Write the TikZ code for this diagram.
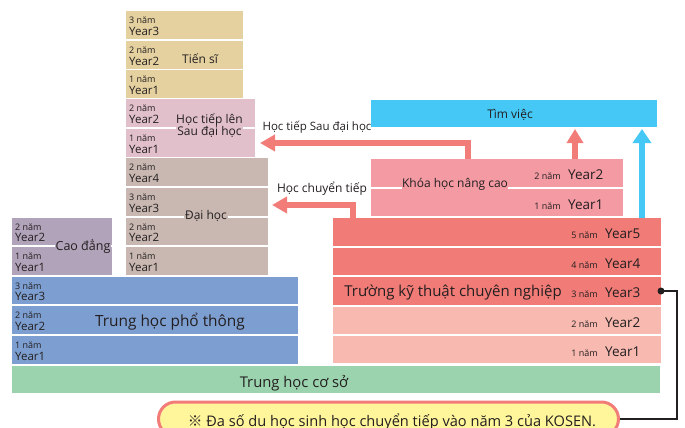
\documentclass[tikz,border=0pt]{standalone}
\usepackage{fontspec}
\setmainfont{Open Sans}
\newfontfamily\cjkf{Noto Sans CJK JP}
\usetikzlibrary{arrows.meta,calc}
\definecolor{txt}{RGB}{35,31,32}
\definecolor{cTS}{RGB}{229,209,160}
\definecolor{cSDH}{RGB}{225,192,203}
\definecolor{cDH}{RGB}{201,184,178}
\definecolor{cCD}{RGB}{177,163,185}
\definecolor{cTH}{RGB}{125,158,208}
\definecolor{cCS}{RGB}{155,211,174}
\definecolor{cKD}{RGB}{241,123,118}
\definecolor{cKL}{RGB}{248,186,176}
\definecolor{cKH}{RGB}{243,154,163}
\definecolor{cTV}{RGB}{69,200,245}
\definecolor{cAR}{RGB}{242,125,120}
\definecolor{cNote}{RGB}{255,245,154}
\newcommand\rb[6]{\node[rowb,fill=#2,minimum width=#5pt,minimum height=#6pt] (#1) at (#3,#4) {};}
\newcommand\yrlab[3]{\node[yrl] (#1l) at ([xshift=3pt,yshift=-1pt]#1.west) {{\fontsize{9}{9}\selectfont #2 năm}\\Year#3};}
\newcommand\kyr[4]{%
  \node[anchor=base west,font=\fontsize{13.5}{13.5}\selectfont,text=txt,inner sep=0] (#1y) at ($(#1.east)+(#4,6.5)$) {Year#3};
  \node[anchor=base east,font=\fontsize{9}{9}\selectfont,text=txt,inner sep=0] (#1n) at ($(#1y.base west)+(-7,0)$) {#2 năm};}
\begin{document}
\begin{tikzpicture}[x=1pt,y=-1pt,
  rowb/.style={draw=none,inner sep=0,outer sep=0,anchor=north west},
  yrl/.style={anchor=west,align=left,inner sep=0,text=txt,font=\fontsize{11.5}{11.5}\selectfont},
  big/.style={text=txt,inner sep=1pt},
  parrow/.style={draw=cAR,line width=6pt,-{Triangle[width=16pt,length=15pt]}},
  barrow/.style={draw=cTV,line width=6pt,-{Triangle[width=18pt,length=14pt]}}]
\useasboundingbox (0,0) rectangle (685,428);
\clip (0,0) rectangle (685,428);
% Tien si
\rb{ts3}{cTS}{126}{11}{117}{28}
\rb{ts2}{cTS}{126}{41}{117}{28}
\rb{ts1}{cTS}{126}{70}{117}{28}
% Sau dai hoc
\rb{sdh2}{cSDH}{126}{99}{129}{28}
\rb{sdh1}{cSDH}{126}{129}{129}{28}
% Dai hoc
\rb{dh4}{cDH}{126}{158}{142}{28}
\rb{dh3}{cDH}{126}{188}{142}{28}
\rb{dh2}{cDH}{126}{218}{142}{27}
\rb{dh1}{cDH}{126}{247}{142}{28}
% Cao dang
\rb{cd2}{cCD}{12}{218}{100}{27}
\rb{cd1}{cCD}{12}{247}{100}{28}
% THPT
\rb{th3}{cTH}{12}{277}{286}{27}
\rb{th2}{cTH}{12}{306}{286}{28}
\rb{th1}{cTH}{12}{336}{286}{28}
% THCS
\rb{cs}{cCS}{12}{366}{648}{27}
% KOSEN
\rb{k5}{cKD}{333}{218}{328}{28}
\rb{k4}{cKD}{333}{248}{328}{27}
\rb{k3}{cKD}{333}{277}{328}{28}
\rb{k2}{cKL}{333}{307}{328}{27}
\rb{k1}{cKL}{333}{336}{328}{27}
% Khoa hoc nang cao
\rb{kh2}{cKH}{371}{159}{252}{28}
\rb{kh1}{cKH}{371}{189}{252}{27}
% Tim viec
\rb{tv}{cTV}{371}{100}{286}{27}

% year labels
\yrlab{ts3}{3}{3}
\yrlab{ts2}{2}{2}
\yrlab{ts1}{1}{1}
\yrlab{sdh2}{2}{2}
\yrlab{sdh1}{1}{1}
\yrlab{dh4}{2}{4}
\yrlab{dh3}{3}{3}
\yrlab{dh2}{2}{2}
\yrlab{dh1}{1}{1}
\yrlab{cd2}{2}{2}
\yrlab{cd1}{1}{1}
\yrlab{th3}{3}{3}
\yrlab{th2}{2}{2}
\yrlab{th1}{1}{1}

\kyr{k5}{5}{5}{-56}
\kyr{k4}{4}{4}{-56}
\kyr{k3}{3}{3}{-56}
\kyr{k2}{2}{2}{-56}
\kyr{k1}{1}{1}{-56}
\kyr{kh2}{2}{2}{-55}
\kyr{kh1}{1}{1}{-55}

% big labels
\node[big,font=\fontsize{12}{12}\selectfont] (tsL) at (200,59) {Tiến sĩ};
\node[big,fill=cSDH,align=center,font=\fontsize{12}{12}\selectfont,inner sep=0.5pt] (sdhL) at (209.5,126) {Học tiếp lên\\Sau đại học};
\node[big,fill=cDH,font=\fontsize{12}{12}\selectfont] (dhL) at (206,216) {Đại học};
\node[big,fill=cCD,font=\fontsize{12.5}{12.5}\selectfont,inner sep=0.5pt] (cdL) at (83,247) {Cao đẳng};
\node[big,font=\fontsize{15.4}{15.4}\selectfont] (thL) at (170,322) {Trung học phổ thông};
\node[big,font=\fontsize{14.8}{14.8}\selectfont] (csL) at (294,383) {Trung học cơ sở};
\node[big,font=\fontsize{15}{15}\selectfont] (kL) at (453,293) {Trường kỹ thuật chuyên nghiệp};
\node[big,fill=cKH,font=\fontsize{12}{12}\selectfont,inner sep=0.3pt] (khL) at (455,184) {Khóa học nâng cao};
\node[big,font=\fontsize{12}{12}\selectfont] (tvL) at (510,115) {Tìm việc};

% arrows
\draw[parrow,shorten >=5pt] ($(kh2.north west)+(97,0)$) |- (sdh1.east);
\draw[parrow,shorten >=4pt] ($(k5.north west)+(20,0)$) |- ($(dh3.east)+(0,3)$);
\node[big,font=\fontsize{11.5}{11.5}\selectfont] (a1L) at (317,127) {Học tiếp Sau đại học};
\node[big,font=\fontsize{12}{12}\selectfont] (a2L) at (322,189) {Học chuyển tiếp};
\draw[draw=cAR,line width=6.5pt,-{Triangle[width=16pt,length=14pt]},shorten >=2pt] ($(kh2.north west)+(204,0)$) -- ($(tv.south west)+(204,0)$);
\draw[barrow,shorten >=2pt] ($(k5.north west)+(309,0)$) -- ($(tv.south west)+(271,0)$);

% note
\node[draw=cAR,line width=3pt,fill=cNote,rounded corners=17pt,minimum width=460pt,minimum height=34pt,inner sep=0] (note) at (388.5,419) {};
\node[big,font=\fontsize{14.6}{14.6}\selectfont] (noteT) at (392,421.5) {{\cjkf ※} Đa số du học sinh học chuyển tiếp vào năm 3 của KOSEN.};
\draw[line width=1.6pt,txt] (k3.east) -- ++(16,0) |- (note.east);
\fill[txt] (k3.east) circle (3.5pt);
\end{tikzpicture}
\end{document}
